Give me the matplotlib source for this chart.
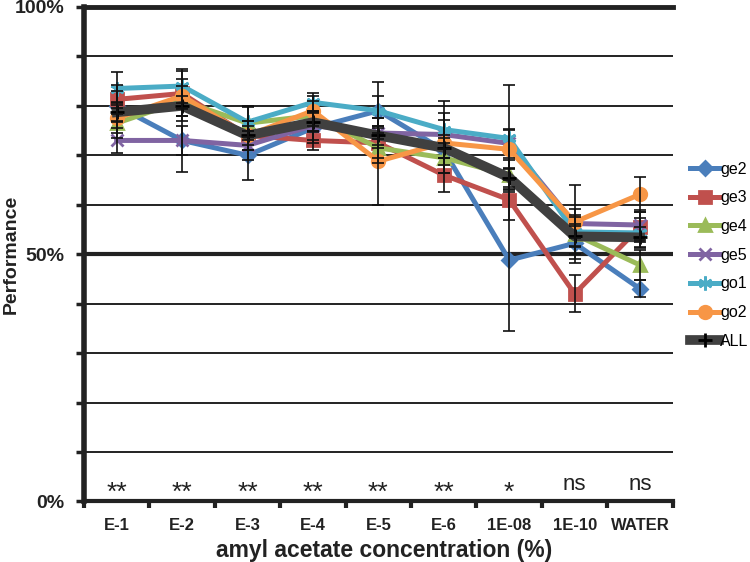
import matplotlib
matplotlib.use("Agg")
import matplotlib.pyplot as plt
import numpy as np

plt.rcParams['font.family'] = ['Liberation Sans', 'DejaVu Sans']

categories = ["E-1", "E-2", "E-3", "E-4", "E-5", "E-6", "1E-08", "1E-10", "WATER"]
significance = ["**", "**", "**", "**", "**", "**", "*", "ns", "ns"]

ge2 = [80.0, 73.0, 70.0, 75.5, 79.0, 71.0, 48.8, 52.2, 43.0]
ge3 = [81.3, 82.5, 74.0, 73.0, 72.5, 66.0, 61.0, 42.0, 55.5]
ge4 = [76.5, 81.0, 76.5, 78.0, 71.5, 69.5, 66.0, 54.0, 47.8]
ge5 = [73.0, 73.0, 72.0, 76.0, 74.5, 74.2, 72.4, 56.2, 55.9]
go1 = [83.5, 84.0, 76.7, 80.7, 79.0, 75.2, 73.4, 54.5, 54.3]
go2 = [77.5, 82.0, 74.0, 79.0, 68.8, 72.5, 71.2, 56.5, 62.1]
ALL = [78.7, 80.0, 74.0, 76.7, 74.0, 71.5, 65.5, 53.6, 53.4]

ge2_err = [3.0, 6.4, 5.0, 3.0, 5.8, 3.0, 14.4, 4.0, 1.7]
ge3_err = [3.0, 3.0, 3.0, 2.0, 3.0, 3.5, 4.0, 3.7, 3.0]
ge4_err = [3.0, 3.0, 3.4, 3.0, 3.0, 3.0, 3.0, 4.0, 3.0]
ge5_err = [2.6, 3.0, 3.0, 3.0, 3.0, 3.0, 3.0, 3.0, 3.0]
go1_err = [3.3, 3.4, 3.0, 1.8, 3.0, 5.8, 10.9, 3.0, 3.0]
go2_err = [3.0, 5.0, 3.0, 3.0, 8.8, 6.0, 4.0, 7.5, 3.6]
ALL_err = [2.0, 2.0, 2.0, 2.0, 2.0, 2.0, 2.0, 2.0, 2.0]

series = [
    ("ge2", ge2, ge2_err, "#4A7EBB", "D", 7),
    ("ge3", ge3, ge3_err, "#C0504D", "s", 9),
    ("ge4", ge4, ge4_err, "#9BBB59", "^", 8),
    ("ge5", ge5, ge5_err, "#8064A2", "x", 8),
    ("go1", go1, go1_err, "#4BACC6", (6, 2, 0), 10),
    ("go2", go2, go2_err, "#F79646", "o", 9),
    ("ALL", ALL, ALL_err, "#404040", "+", 10),
]

fig = plt.figure(figsize=(7.5, 5.62), dpi=100)
ax = fig.add_axes([0.112, 0.1077, 0.785, 0.88])

x = np.arange(len(categories))

# gridlines
for v in range(10, 100, 10):
    ax.axhline(v, color="#222222", lw=3.0 if v == 50 else 1.4, zorder=1)
ax.axhline(100, color="#222222", lw=3.5, zorder=1, clip_on=False)

handles = []
for name, vals, err, col, mk, ms in series:
    lw = 7 if name == "ALL" else 3.6
    mcol = "black" if name == "ALL" else col
    h, = ax.plot(x, vals, color=col, lw=lw, marker=mk, markersize=ms,
                 markerfacecolor=mcol, markeredgecolor=mcol, markeredgewidth=2,
                 solid_joinstyle="round", zorder=4 if name != "ALL" else 5, label=name)
    handles.append(h)
    ax.errorbar(x, vals, yerr=err, fmt="none", ecolor="#111111", elinewidth=1.2,
                capsize=4, capthick=1.2, zorder=6)

for xi, s in zip(x, significance):
    if s == "ns":
        ax.text(xi, 2.3, s, ha="center", va="baseline", fontsize=16, color="#222222")
    else:
        ax.text(xi, 0.3, s, ha="center", va="baseline", fontsize=19, color="#222222")

ax.set_xlim(-0.5, len(categories) - 0.5)
ax.set_ylim(0, 100)
ax.set_xticks(x)
ax.set_xticklabels(categories, fontsize=12, fontweight="bold", color="#222222")
ax.set_xticks(np.arange(-0.5, len(categories), 1.0), minor=True)
ax.tick_params(axis="x", which="major", length=0, pad=12)
ax.tick_params(axis="x", which="minor", length=5, width=3, color="#222222")

ax.set_yticks(np.arange(0, 101, 10))
ax.set_yticklabels(["0%" if v == 0 else "50%" if v == 50 else "100%" if v == 100 else ""
                    for v in range(0, 101, 10)], fontsize=14, fontweight="bold", color="#222222")
ax.tick_params(axis="y", length=6, width=2.5, color="#222222", pad=8)

for sp in ["top", "right"]:
    ax.spines[sp].set_visible(False)
ax.spines["left"].set_linewidth(4)
ax.spines["left"].set_color("#222222")
ax.spines["bottom"].set_linewidth(3)
ax.spines["bottom"].set_color("#222222")

ax.set_xlabel("amyl acetate concentration (%)", fontsize=16.5, fontweight="bold",
              color="#222222")
ax.xaxis.set_label_coords(0.51, -0.075)
ax.set_ylabel("Performance", fontsize=14, fontweight="bold", color="#222222")
ax.yaxis.set_label_coords(-0.109, 0.5)

fig.legend(handles=handles, loc="upper left", bbox_to_anchor=(0.912, 0.724),
           frameon=False, fontsize=11.5, handlelength=1.8, handletextpad=0.05,
           labelspacing=0.86, borderaxespad=0)

fig.savefig("out.png", dpi=100)
